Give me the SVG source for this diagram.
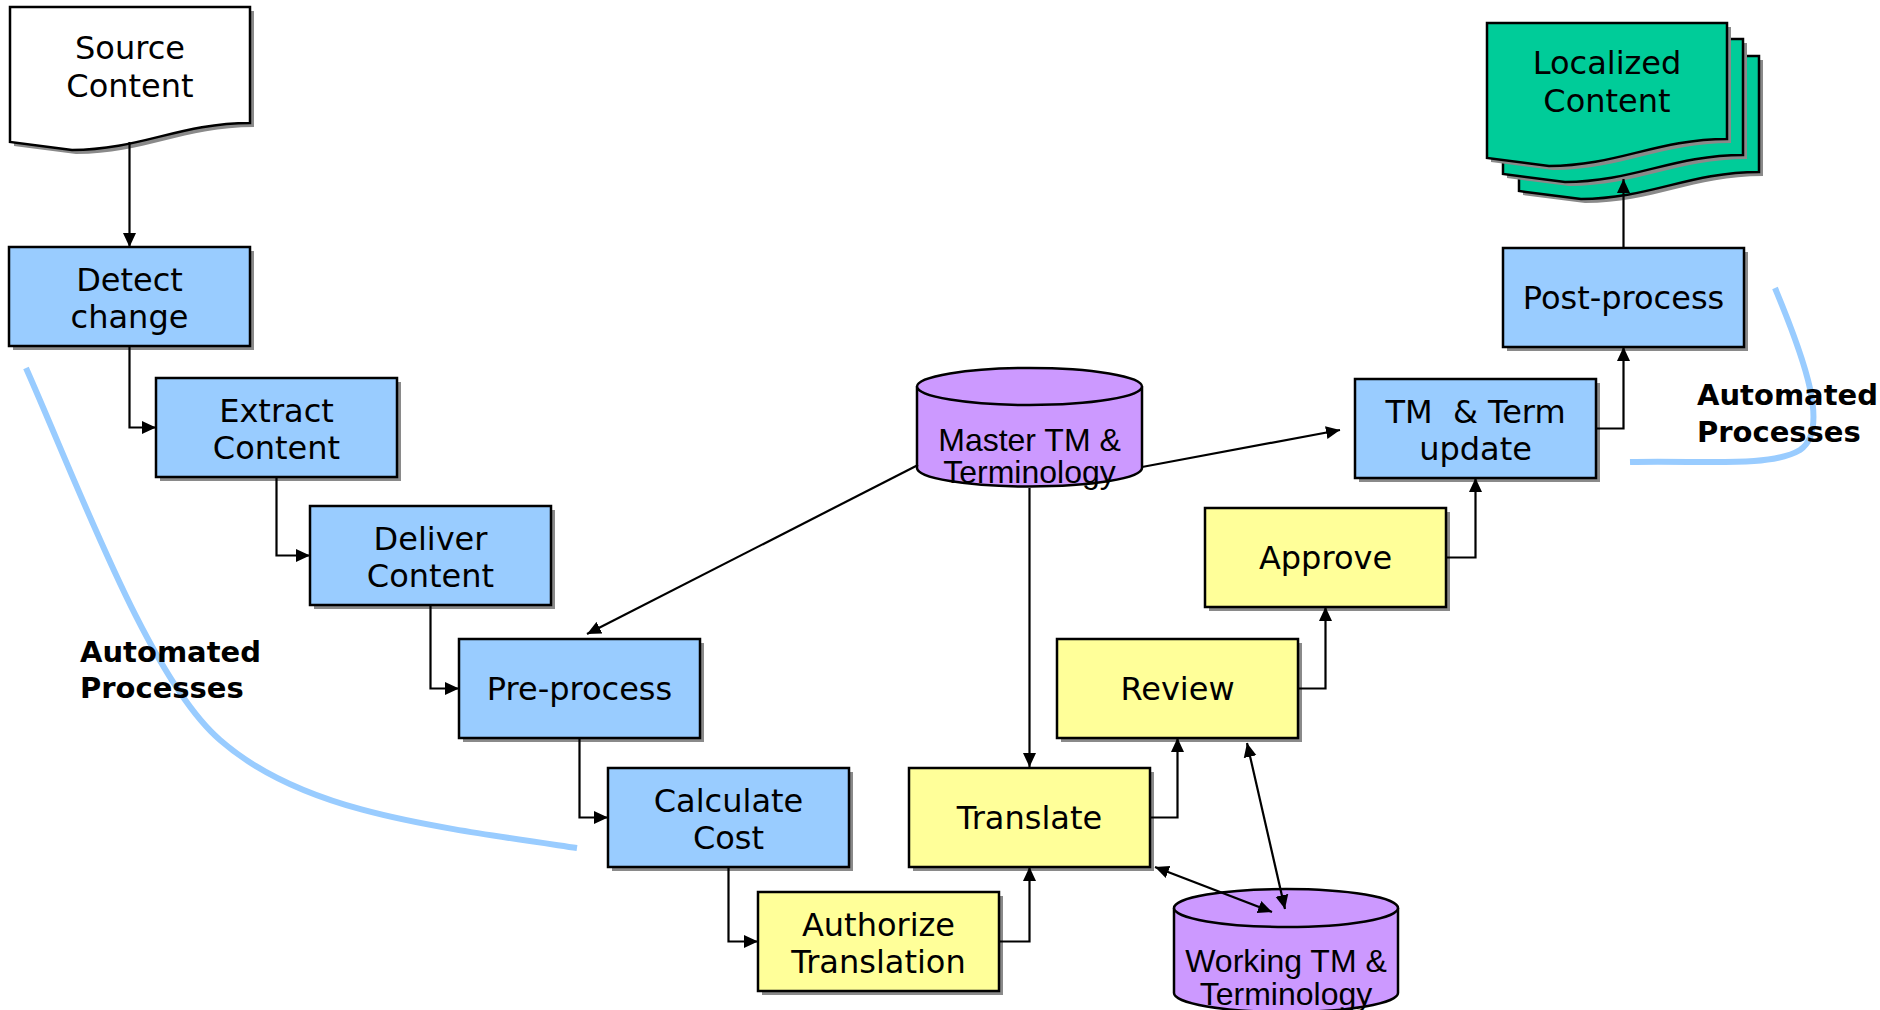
<svg xmlns="http://www.w3.org/2000/svg" width="1880" height="1010" viewBox="0 0 1880 1010">
<style>
  .box { stroke: #000; stroke-width: 2.5; }
  .shadow { fill: #8a8a8a; }
  .blue { fill: #99CCFF; }
  .yellow { fill: #FFFF99; }
  .purple { fill: #CC99FF; stroke: #000; stroke-width: 2.5; }
  .green { fill: #00CC99; }
  .white { fill: #FFFFFF; }
  .lbl { font-family: "DejaVu Sans", Verdana, sans-serif; font-size: 32px; fill: #000; text-anchor: middle; }
  .db { font-family: "Liberation Sans", Arial, sans-serif; font-size: 32px; fill: #000; text-anchor: middle; }
  .note { font-family: "DejaVu Sans", Verdana, sans-serif; font-size: 29px; font-weight: bold; fill: #000; }
  .conn { fill: none; stroke: #000; stroke-width: 2.2; }
  .zone { fill: none; stroke: #99CCFF; stroke-width: 6; stroke-linecap: butt; }
</style>
<defs>
  <marker id="arr" viewBox="0 0 14 14" refX="14" refY="7" markerWidth="14" markerHeight="14" markerUnits="userSpaceOnUse" orient="auto-start-reverse">
    <path d="M0,0.5 L14,7 L0,13.5 Z" fill="#000"/>
  </marker>
  <path id="doc" d="M0,0 H240 V116 C170,116 130,143 62,143 L0,135 Z"/>
  <rect id="bx" x="0" y="0" width="241" height="99"/>
</defs>

<rect width="1880" height="1010" fill="#FFFFFF"/>

<!-- automated-process boundaries -->
<g id="zones">
  <path class="zone" d="M26,368 C80,490 150,680 220,740 C300,810 420,825 577,848"/>
  <path class="zone" d="M1775,288 C1805,360 1830,430 1800,450 C1770,468 1700,460 1630,462"/>
  <text class="note" x="80" y="662">Automated</text>
  <text class="note" x="80" y="698">Processes</text>
  <text class="note" x="1697" y="405">Automated</text>
  <text class="note" x="1697" y="442">Processes</text>
</g>

<!-- documents -->
<g id="source-content">
  <use href="#doc" transform="translate(14,11)" class="shadow"/>
  <use href="#doc" transform="translate(10,7)" class="box white"/>
  <text class="lbl" x="130" y="59">Source</text>
  <text class="lbl" x="130" y="97">Content</text>
</g>

<g id="localized-content">
  <use href="#doc" transform="translate(1523,60)" class="shadow"/>
  <use href="#doc" transform="translate(1519,56)" class="box green"/>
  <use href="#doc" transform="translate(1507,43)" class="shadow"/>
  <use href="#doc" transform="translate(1503,39)" class="box green"/>
  <use href="#doc" transform="translate(1491,27)" class="shadow"/>
  <use href="#doc" transform="translate(1487,23)" class="box green"/>
  <text class="lbl" x="1607" y="74">Localized</text>
  <text class="lbl" x="1607" y="112">Content</text>
</g>

<!-- process steps -->
<g id="detect-change">
  <use href="#bx" transform="translate(13,251)" class="shadow"/>
  <use href="#bx" transform="translate(9,247)" class="box blue"/>
  <text class="lbl" x="129.5" y="290.5">Detect</text>
  <text class="lbl" x="129.5" y="327.5">change</text>
</g>
<g id="extract-content">
  <use href="#bx" transform="translate(160,382)" class="shadow"/>
  <use href="#bx" transform="translate(156,378)" class="box blue"/>
  <text class="lbl" x="276.5" y="421.5">Extract</text>
  <text class="lbl" x="276.5" y="458.5">Content</text>
</g>
<g id="deliver-content">
  <use href="#bx" transform="translate(314,510)" class="shadow"/>
  <use href="#bx" transform="translate(310,506)" class="box blue"/>
  <text class="lbl" x="430.5" y="549.5">Deliver</text>
  <text class="lbl" x="430.5" y="586.5">Content</text>
</g>
<g id="pre-process">
  <use href="#bx" transform="translate(463,643)" class="shadow"/>
  <use href="#bx" transform="translate(459,639)" class="box blue"/>
  <text class="lbl" x="579.5" y="699.5">Pre-process</text>
</g>
<g id="calculate-cost">
  <use href="#bx" transform="translate(612,772)" class="shadow"/>
  <use href="#bx" transform="translate(608,768)" class="box blue"/>
  <text class="lbl" x="728.5" y="811.5">Calculate</text>
  <text class="lbl" x="728.5" y="848.5">Cost</text>
</g>
<g id="authorize-translation">
  <use href="#bx" transform="translate(762,896)" class="shadow"/>
  <use href="#bx" transform="translate(758,892)" class="box yellow"/>
  <text class="lbl" x="878.5" y="935.5">Authorize</text>
  <text class="lbl" x="878.5" y="972.5">Translation</text>
</g>
<g id="translate">
  <use href="#bx" transform="translate(913,772)" class="shadow"/>
  <use href="#bx" transform="translate(909,768)" class="box yellow"/>
  <text class="lbl" x="1029.5" y="828.5">Translate</text>
</g>
<g id="review">
  <use href="#bx" transform="translate(1061,643)" class="shadow"/>
  <use href="#bx" transform="translate(1057,639)" class="box yellow"/>
  <text class="lbl" x="1177.5" y="699.5">Review</text>
</g>
<g id="approve">
  <use href="#bx" transform="translate(1209,512)" class="shadow"/>
  <use href="#bx" transform="translate(1205,508)" class="box yellow"/>
  <text class="lbl" x="1325.5" y="568.5">Approve</text>
</g>
<g id="tm-term-update">
  <use href="#bx" transform="translate(1359,383)" class="shadow"/>
  <use href="#bx" transform="translate(1355,379)" class="box blue"/>
  <text class="lbl" x="1475.5" y="422.5" xml:space="preserve">TM  &amp; Term</text>
  <text class="lbl" x="1475.5" y="459.5">update</text>
</g>
<g id="post-process">
  <use href="#bx" transform="translate(1507,252)" class="shadow"/>
  <use href="#bx" transform="translate(1503,248)" class="box blue"/>
  <text class="lbl" x="1623.5" y="308.5">Post-process</text>
</g>

<!-- data stores -->
<g id="master-tm">
  <path class="purple" d="M917,386.5 V468 A112.5,18.5 0 0 0 1142,468 V386.5"/>
  <ellipse class="purple" cx="1029.5" cy="386.5" rx="112.5" ry="18.5"/>
  <text class="db" x="1029.5" y="451">Master TM &amp;</text>
  <text class="db" x="1029.5" y="483">Terminology</text>
</g>
<g id="working-tm">
  <path class="purple" d="M1174,908 V993 A112,19 0 0 0 1398,993 V908"/>
  <ellipse class="purple" cx="1286" cy="908" rx="112" ry="19"/>
  <text class="db" x="1286" y="972">Working TM &amp;</text>
  <text class="db" x="1286" y="1005">Terminology</text>
</g>

<!-- connectors -->
<g id="connectors">
  <path class="conn" d="M129.5,142 V247" marker-end="url(#arr)"/>
  <path class="conn" d="M129.5,346 V427.5 H156" marker-end="url(#arr)"/>
  <path class="conn" d="M276.5,477 V555.5 H310" marker-end="url(#arr)"/>
  <path class="conn" d="M430.5,605 V688.5 H459" marker-end="url(#arr)"/>
  <path class="conn" d="M579.5,738 V817.5 H608" marker-end="url(#arr)"/>
  <path class="conn" d="M728.5,867 V941.5 H758" marker-end="url(#arr)"/>
  <path class="conn" d="M999,941.5 H1029.5 V867" marker-end="url(#arr)"/>
  <path class="conn" d="M1150,817.5 H1177.5 V738" marker-end="url(#arr)"/>
  <path class="conn" d="M1298,688.5 H1325.5 V607" marker-end="url(#arr)"/>
  <path class="conn" d="M1446,557.5 H1475.5 V478" marker-end="url(#arr)"/>
  <path class="conn" d="M1596,428.5 H1623.5 V347" marker-end="url(#arr)"/>
  <path class="conn" d="M1623.5,248 V179" marker-end="url(#arr)"/>
  <path class="conn" d="M918,465 L587,634" marker-end="url(#arr)"/>
  <path class="conn" d="M1142,467 L1340,430" marker-end="url(#arr)"/>
  <path class="conn" d="M1029.5,488 V767" marker-end="url(#arr)"/>
  <path class="conn" d="M1155,867 L1272,912" marker-start="url(#arr)" marker-end="url(#arr)"/>
  <path class="conn" d="M1247,743 L1285,909" marker-start="url(#arr)" marker-end="url(#arr)"/>
</g>
</svg>
